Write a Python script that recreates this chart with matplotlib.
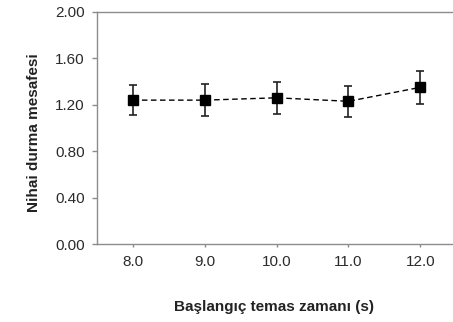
import matplotlib
matplotlib.use("Agg")
import matplotlib.pyplot as plt

# data
categories = ["8.0", "9.0", "10.0", "11.0", "12.0"]
distance = [1.24, 1.24, 1.26, 1.23, 1.35]
distance_err = [0.13, 0.14, 0.14, 0.135, 0.14]
y_ticks = [0.0, 0.4, 0.8, 1.2, 1.6, 2.0]

plt.rcParams['font.family'] = ['Liberation Sans', 'DejaVu Sans']

fig = plt.figure(figsize=(4.53, 3.22), dpi=100)
ax = fig.add_axes([0.214, 0.242, 0.793, 0.721])

xpos = list(range(len(categories)))
ax.errorbar(xpos, distance, yerr=distance_err, color='black', ecolor='#222222',
            linestyle=(0, (4, 2.5)), linewidth=1.0, elinewidth=1.2,
            capsize=3.0, capthick=1.2, marker='s', markersize=6.5, zorder=3)

ax.set_xlim(-0.5, len(categories) - 0.5)
ax.set_ylim(0, 2.0)
ax.set_xticks(xpos)
ax.set_xticklabels(categories)
ax.set_yticks(y_ticks)
ax.set_yticklabels([f"{v:.2f}" for v in y_ticks])

for side in ('left', 'top', 'bottom'):
    ax.spines[side].set_color('#8c8c8c')
    ax.spines[side].set_linewidth(1.0)
ax.spines['right'].set_visible(False)

ax.tick_params(axis='both', colors='#8c8c8c', labelcolor='#2b2b2b',
               labelsize=11, width=1.0, direction='out')
ax.tick_params(axis='y', length=3.6, pad=5)
ax.tick_params(axis='x', length=2.2, pad=6)

ax.set_xlabel("Başlangıç temas zamanı (s)", fontsize=11, fontweight='bold',
              color='#222222')
ax.set_ylabel("Nihai durma mesafesi", fontsize=11, fontweight='bold',
              color='#222222')
ax.xaxis.set_label_coords(0.493, -0.241)
ax.yaxis.set_label_coords(-0.156, 0.48)

fig.savefig("out.png", dpi=100)
